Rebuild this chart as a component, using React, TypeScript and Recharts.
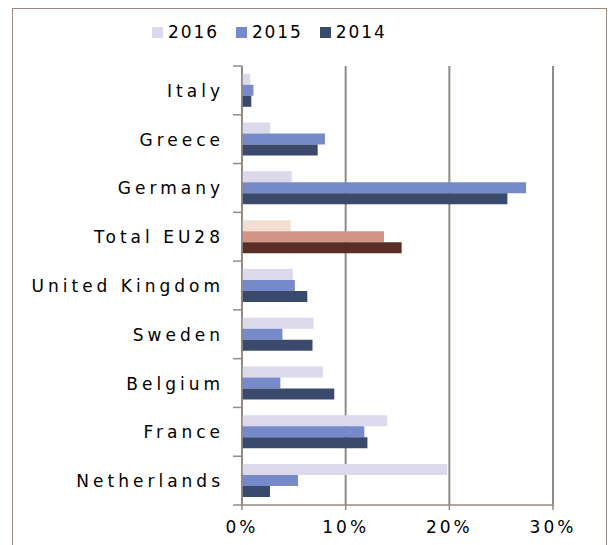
import React from "react";
import { Bar, BarChart, CartesianGrid, Cell, XAxis, YAxis } from "recharts";

const categories = [
  "Italy",
  "Greece",
  "Germany",
  "Total EU28",
  "United Kingdom",
  "Sweden",
  "Belgium",
  "France",
  "Netherlands",
];
const values2016 = [0.8, 2.7, 4.8, 4.7, 4.9, 6.9, 7.8, 14.0, 19.8];
const values2015 = [1.1, 8.0, 27.4, 13.7, 5.1, 3.9, 3.7, 11.8, 5.4];
const values2014 = [0.9, 7.3, 25.6, 15.4, 6.3, 6.8, 8.9, 12.1, 2.7];
const xTicks = [0, 10, 20, 30];

const HIGHLIGHT = "Total EU28";
const series = [
  { key: "y2016", name: "2016", color: "#dbd9ea", highlight: "#f1dfd2" },
  { key: "y2015", name: "2015", color: "#7689c9", highlight: "#d39586" },
  { key: "y2014", name: "2014", color: "#3a4a6c", highlight: "#5a2d27" },
];

const data = categories.map((name, i) => ({
  name,
  y2016: values2016[i],
  y2015: values2015[i],
  y2014: values2014[i],
}));

const FONT = "'DejaVu Sans', Verdana, sans-serif";
const AXIS = "#948a82";
const WIDTH = 608;
const HEIGHT = 545;
const X_AXIS_H = 30;
const MARGIN = { top: 66, right: 55, bottom: 40 - X_AXIS_H, left: 0 };
const Y_AXIS_W = 242;
const BAND = (HEIGHT - MARGIN.top - 40) / categories.length;

function CategoryTick(props: any) {
  const { x, y, payload, index } = props;
  const axisX = Y_AXIS_W;
  return (
    <g>
      <text
        x={x + 2}
        y={y}
        dy={6.5}
        textAnchor="end"
        fontSize={17}
        letterSpacing={4}
        fontFamily={FONT}
        fill="#000"
      >
        {payload.value}
      </text>
      <line x1={axisX - 9} x2={axisX} y1={y - BAND / 2} y2={y - BAND / 2} stroke={AXIS} strokeWidth={1.5} />
      {index === categories.length - 1 && (
        <line x1={axisX - 9} x2={axisX} y1={y + BAND / 2} y2={y + BAND / 2} stroke={AXIS} strokeWidth={1.5} />
      )}
    </g>
  );
}

function LegendBox() {
  return (
    <div
      style={{
        position: "absolute",
        left: 152,
        top: 24,
        display: "flex",
        fontFamily: FONT,
        fontSize: 17,
        lineHeight: "17px",
        letterSpacing: 1.9,
        color: "#000",
      }}
    >
      {series.map((s) => (
        <div key={s.key} style={{ display: "flex", alignItems: "center", marginRight: 17 }}>
          <span style={{ width: 11, height: 11, background: s.color, marginRight: 5, display: "inline-block" }} />
          <span>{s.name}</span>
        </div>
      ))}
    </div>
  );
}

export default function App() {
  return (
    <div style={{ position: "absolute", left: 0, top: 0, width: WIDTH, height: HEIGHT, background: "#fff", overflow: "hidden" }}>
      <div
        style={{
          position: "absolute",
          left: 12,
          top: 8,
          width: 593,
          height: 560,
          borderLeft: `1.5px solid ${AXIS}`,
          borderTop: `1.5px solid ${AXIS}`,
          borderRight: `1.5px solid ${AXIS}`,
        }}
      />
      <LegendBox />
      <div style={{ position: "absolute", left: 0, top: 0 }}>
        <BarChart
          width={WIDTH}
          height={HEIGHT}
          data={data}
          layout="vertical"
          margin={MARGIN}
          barCategoryGap="16%"
          barGap={0}
        >
          <CartesianGrid horizontal={false} stroke={AXIS} strokeWidth={2} />
          <XAxis
            type="number"
            domain={[0, 30]}
            ticks={xTicks}
            tickFormatter={(v) => `${v}%`}
            height={X_AXIS_H}
            stroke={AXIS}
            strokeWidth={1.5}
            tickSize={5}
            tickMargin={11}
            tick={{ fontSize: 17, fontFamily: FONT, fill: "#000", letterSpacing: 3 }}
          />
          <YAxis
            type="category"
            dataKey="name"
            width={Y_AXIS_W}
            stroke={AXIS}
            strokeWidth={1.5}
            tickLine={false}
            tickSize={9}
            tickMargin={11}
            tick={<CategoryTick />}
            interval={0}
          />
          {series.map((s) => (
            <Bar key={s.key} dataKey={s.key} name={s.name} fill={s.color} isAnimationActive={false}>
              {data.map((d) => (
                <Cell key={d.name} fill={d.name === HIGHLIGHT ? s.highlight : s.color} />
              ))}
            </Bar>
          ))}
        </BarChart>
      </div>
    </div>
  );
}
